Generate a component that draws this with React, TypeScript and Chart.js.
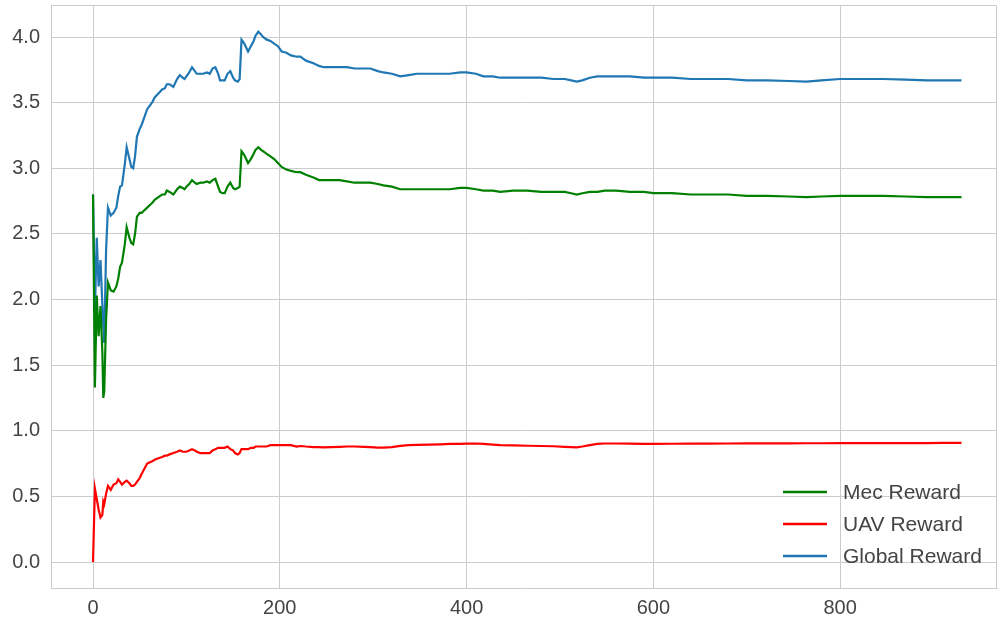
import React, { useEffect, useRef } from "react";
import { Chart, registerables } from "chart.js";

Chart.register(...registerables);

// x positions (episode index) where values were read
const steps = [
  0, 2, 4, 6, 8, 10, 11, 12, 14, 16,
  19, 22, 25, 27, 29, 31, 34, 36, 39, 41,
  43, 45, 47, 50, 52, 55, 58, 61, 64, 66,
  70, 74, 77, 79, 82, 86, 90, 93, 96, 98,
  100, 103, 106, 109, 111, 115, 118, 122, 125, 128,
  131, 134, 136, 139, 141, 144, 147, 150, 152, 155,
  157, 159, 162, 166, 169, 172, 174, 177, 180, 182,
  186, 190, 194, 198, 202, 207, 212, 218, 222, 228,
  236, 242, 247, 255, 264, 272, 280, 290, 297, 305,
  311, 320, 329, 338, 347, 360, 372, 382, 393, 400,
  410, 418, 428, 436, 450, 465, 480, 493, 505, 512,
  518, 524, 532, 540, 548, 560, 575, 590, 600, 620,
  640, 660, 680, 700, 722, 745, 764, 780, 800, 820,
  846, 870, 893, 910, 930,
];

const mecReward = [
  2.80, 1.33, 2.03, 1.72, 1.95, 1.60, 1.25, 1.30, 1.85, 2.13,
  2.07, 2.06, 2.10, 2.16, 2.25, 2.28, 2.42, 2.55, 2.47, 2.43,
  2.42, 2.50, 2.63, 2.66, 2.66, 2.68, 2.70, 2.72, 2.74, 2.76,
  2.78, 2.80, 2.80, 2.83, 2.82, 2.80, 2.84, 2.86, 2.85, 2.84,
  2.86, 2.88, 2.91, 2.89, 2.88, 2.89, 2.89, 2.90, 2.89, 2.91,
  2.92, 2.86, 2.82, 2.81, 2.81, 2.86, 2.89, 2.85, 2.84, 2.85,
  2.86, 3.13, 3.10, 3.04, 3.07, 3.11, 3.14, 3.16, 3.14, 3.13,
  3.11, 3.09, 3.07, 3.04, 3.01, 2.99, 2.98, 2.97, 2.97, 2.95,
  2.93, 2.91, 2.91, 2.91, 2.91, 2.90, 2.89, 2.89, 2.89, 2.88,
  2.87, 2.86, 2.84, 2.84, 2.84, 2.84, 2.84, 2.84, 2.85, 2.85,
  2.84, 2.83, 2.83, 2.82, 2.83, 2.83, 2.82, 2.82, 2.82, 2.81,
  2.80, 2.81, 2.82, 2.82, 2.83, 2.83, 2.82, 2.82, 2.81, 2.81,
  2.80, 2.80, 2.80, 2.79, 2.79, 2.785, 2.78, 2.785, 2.79, 2.79,
  2.79, 2.785, 2.78, 2.78, 2.78,
];

const uavReward = [
  0.00, 0.56, 0.48, 0.40, 0.34, 0.36, 0.46, 0.44, 0.52, 0.58,
  0.55, 0.59, 0.60, 0.63, 0.61, 0.59, 0.61, 0.62, 0.60, 0.58,
  0.58, 0.59, 0.61, 0.64, 0.67, 0.71, 0.75, 0.76, 0.77, 0.78,
  0.79, 0.80, 0.81, 0.81, 0.82, 0.83, 0.84, 0.85, 0.84, 0.84,
  0.84, 0.85, 0.86, 0.85, 0.84, 0.83, 0.83, 0.83, 0.83, 0.85,
  0.86, 0.87, 0.87, 0.87, 0.87, 0.88, 0.86, 0.85, 0.83, 0.82,
  0.83, 0.86, 0.86, 0.86, 0.87, 0.87, 0.88, 0.88, 0.88, 0.88,
  0.88, 0.89, 0.89, 0.89, 0.89, 0.89, 0.89, 0.88, 0.884, 0.88,
  0.876, 0.875, 0.874, 0.876, 0.878, 0.88, 0.88, 0.877, 0.875, 0.872,
  0.871, 0.875, 0.885, 0.89, 0.893, 0.895, 0.897, 0.90, 0.90, 0.902,
  0.903, 0.90, 0.895, 0.89, 0.888, 0.886, 0.884, 0.882, 0.878, 0.876,
  0.874, 0.88, 0.89, 0.90, 0.903, 0.903, 0.902, 0.90, 0.90, 0.901,
  0.902, 0.902, 0.903, 0.904, 0.904, 0.904, 0.905, 0.905, 0.906, 0.906,
  0.906, 0.906, 0.906, 0.907, 0.907,
];

const globalReward = [
  2.80, 1.90, 2.47, 2.10, 2.30, 1.96, 1.80, 1.67, 2.38, 2.70,
  2.64, 2.66, 2.70, 2.79, 2.86, 2.87, 3.03, 3.16, 3.07, 3.01,
  3.00, 3.09, 3.24, 3.30, 3.33, 3.39, 3.45, 3.48, 3.51, 3.54,
  3.57, 3.60, 3.61, 3.64, 3.64, 3.62, 3.68, 3.71, 3.69, 3.68,
  3.70, 3.73, 3.77, 3.74, 3.72, 3.72, 3.72, 3.73, 3.72, 3.76,
  3.77, 3.72, 3.67, 3.67, 3.67, 3.72, 3.74, 3.69, 3.67, 3.66,
  3.68, 3.98, 3.95, 3.89, 3.93, 3.97, 4.01, 4.04, 4.02, 4.00,
  3.98, 3.97, 3.95, 3.93, 3.89, 3.88, 3.86, 3.85, 3.85, 3.82,
  3.80, 3.78, 3.77, 3.77, 3.77, 3.77, 3.76, 3.76, 3.76, 3.74,
  3.73, 3.72, 3.70, 3.71, 3.72, 3.72, 3.72, 3.72, 3.73, 3.73,
  3.72, 3.70, 3.70, 3.69, 3.69, 3.69, 3.69, 3.68, 3.68, 3.67,
  3.66, 3.67, 3.69, 3.70, 3.70, 3.70, 3.70, 3.69, 3.69, 3.69,
  3.68, 3.68, 3.68, 3.67, 3.67, 3.665, 3.66, 3.67, 3.68, 3.68,
  3.68, 3.675, 3.67, 3.67, 3.67,
];

const seriesLabels = ["Mec Reward", "UAV Reward", "Global Reward"];
const seriesColors = ["#008000", "#ff0000", "#1f77b4"];
const xTicks = [0, 200, 400, 600, 800];
const yTicks = [0, 0.5, 1, 1.5, 2, 2.5, 3, 3.5, 4];

const FONT = '"Liberation Sans", Arial, sans-serif';
const GRID = "#cccccc";
const TEXT = "#444444";

const framePlugin = {
  id: "frame",
  beforeDatasetsDraw(chart: any) {
    const { ctx, chartArea } = chart;
    const { left, right, top, bottom } = chartArea;
    ctx.save();
    ctx.strokeStyle = GRID;
    ctx.lineWidth = 1;
    ctx.beginPath();
    ctx.moveTo(Math.round(left) + 0.5, Math.round(top) + 0.5);
    ctx.lineTo(Math.round(right) - 0.5, Math.round(top) + 0.5);
    ctx.lineTo(Math.round(right) - 0.5, Math.round(bottom) + 0.5);
    ctx.stroke();
    ctx.restore();
  },
};

const legendPlugin = {
  id: "insideLegend",
  afterDraw(chart: any) {
    const { ctx, chartArea } = chart;
    const datasets = chart.data.datasets;
    ctx.save();
    ctx.font = "21px " + FONT;
    ctx.textBaseline = "middle";
    ctx.textAlign = "left";
    const rowH = 32;
    datasets.forEach((ds: any, i: number) => {
      const y = chartArea.bottom - 96 + i * rowH;
      ctx.strokeStyle = ds.borderColor;
      ctx.lineWidth = 2.5;
      ctx.beginPath();
      ctx.moveTo(chartArea.right - 214, y);
      ctx.lineTo(chartArea.right - 170, y);
      ctx.stroke();
      ctx.fillStyle = TEXT;
      ctx.fillText(ds.label, chartArea.right - 154, y + 1);
    });
    ctx.restore();
  },
};

export default function App() {
  const canvasRef = useRef<HTMLCanvasElement | null>(null);

  useEffect(() => {
    if (!canvasRef.current) return;
    const series = [mecReward, uavReward, globalReward];
    const chart = new Chart(canvasRef.current, {
      type: "line",
      data: {
        datasets: series.map((vals, k) => ({
          label: seriesLabels[k],
          data: steps.map((x, i) => ({ x, y: vals[i] })),
          borderColor: seriesColors[k],
          backgroundColor: seriesColors[k],
          borderWidth: 2.2,
          pointRadius: 0,
          tension: 0,
          fill: false,
        })),
      },
      options: {
        responsive: false,
        animation: false,
        devicePixelRatio: 1,
        layout: { padding: { top: 5, right: 3, left: 0, bottom: 0 } },
        plugins: {
          legend: { display: false },
          tooltip: { enabled: false },
        },
        scales: {
          x: {
            type: "linear",
            min: -45,
            max: 968,
            afterBuildTicks: (scale: any) => {
              scale.ticks = xTicks.map((v) => ({ value: v }));
            },
            afterFit: (scale: any) => {
              scale.height = 33;
              scale.paddingLeft = 0;
              scale.paddingRight = 0;
            },
            grid: { color: GRID, lineWidth: 1, drawTicks: false },
            border: { display: true, color: GRID, width: 1 },
            ticks: {
              padding: 8,
              color: TEXT,
              font: { family: FONT, size: 20 },
              maxRotation: 0,
              callback: (v: any) => String(v),
            },
          },
          y: {
            type: "linear",
            min: -0.198,
            max: 4.244,
            afterBuildTicks: (scale: any) => {
              scale.ticks = yTicks.map((v) => ({ value: v }));
            },
            afterFit: (scale: any) => {
              scale.width = 51;
              scale.paddingTop = 0;
              scale.paddingBottom = 0;
            },
            grid: { color: GRID, lineWidth: 1, drawTicks: false },
            border: { display: true, color: GRID, width: 1 },
            ticks: {
              padding: 11,
              color: TEXT,
              font: { family: FONT, size: 20 },
              callback: (v: any) => Number(v).toFixed(1),
            },
          },
        },
      },
      plugins: [framePlugin, legendPlugin],
    });
    return () => chart.destroy();
  }, []);

  return (
    <div style={{ position: "absolute", left: 0, top: 0, width: 1000, height: 621, background: "#ffffff" }}>
      <canvas ref={canvasRef} width={1000} height={621} style={{ display: "block" }} />
    </div>
  );
}
